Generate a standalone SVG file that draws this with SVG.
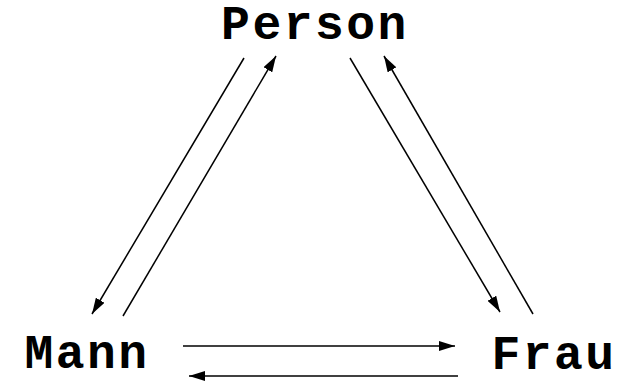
<svg xmlns="http://www.w3.org/2000/svg" width="623" height="386" viewBox="0 0 623 386">
<style>
.lbl{font-family:"Liberation Mono","Courier New",monospace;font-weight:bold;font-size:48px;letter-spacing:2.5px;fill:#000}
.c{stroke:#000;stroke-width:1.5;fill:none;marker-end:url(#ah)}
</style>
<defs>
<marker id="ah" viewBox="0 0 16 10" refX="16" refY="5" markerWidth="16" markerHeight="10" markerUnits="userSpaceOnUse" orient="auto">
<path d="M0,0 L16,5 L0,10 Z" fill="#000"/>
</marker>
</defs>
<rect width="623" height="386" fill="#fff"/>
<g id="person"><text class="lbl" x="315" y="39" text-anchor="middle">Person</text></g>
<g id="mann"><text class="lbl" x="87" y="368" text-anchor="middle">Mann</text></g>
<g id="frau"><text class="lbl" x="554" y="369" text-anchor="middle">Frau</text></g>
<g id="connectors">
<line class="c" x1="244" y1="58" x2="92" y2="314"/>
<line class="c" x1="123" y1="316" x2="276" y2="56"/>
<line class="c" x1="350" y1="58" x2="500" y2="312"/>
<line class="c" x1="533" y1="314" x2="384" y2="56"/>
<line class="c" x1="183" y1="346" x2="455" y2="346"/>
<line class="c" x1="458" y1="376" x2="189" y2="376"/>
</g>
</svg>
